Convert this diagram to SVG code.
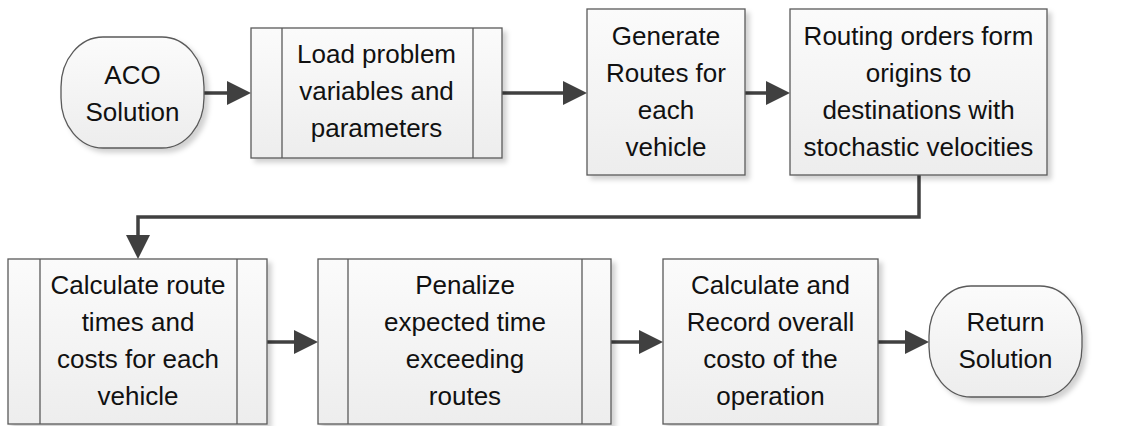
<svg xmlns="http://www.w3.org/2000/svg" width="1123" height="426" viewBox="0 0 1123 426">
<defs>
<linearGradient id="fillg" x1="0" y1="0" x2="0" y2="1">
<stop offset="0" stop-color="#fbfbfb"/>
<stop offset="1" stop-color="#ededed"/>
</linearGradient>
<filter id="sh" x="-10%" y="-10%" width="125%" height="125%">
<feDropShadow dx="4" dy="4" stdDeviation="2.5" flood-color="#000" flood-opacity="0.18"/>
</filter>
<marker id="ah" viewBox="0 0 24 24" refX="14" refY="12" markerWidth="24" markerHeight="24" markerUnits="userSpaceOnUse" orient="auto">
<path d="M0,0 L24,12 L0,24 Z" fill="#404040"/>
</marker>
</defs>
<style>
.shape{fill:url(#fillg);stroke:#5a5a5a;stroke-width:1.3;filter:url(#sh)}
.inner{stroke:#5a5a5a;stroke-width:1.3;fill:none}
.lbl{font-family:"Liberation Sans",Arial,sans-serif;font-size:26px;fill:#111;text-anchor:middle}
.conn{fill:none;stroke:#404040;stroke-width:3.5;marker-end:url(#ah)}
</style>
<rect width="1123" height="426" fill="#ffffff"/>

<g id="connectors">
<path class="conn" d="M204,93 H241"/>
<path class="conn" d="M502,93 H577"/>
<path class="conn" d="M745,93 H780"/>
<path class="conn" d="M919,175 V217 H138 V249"/>
<path class="conn" d="M267,342 H308"/>
<path class="conn" d="M611,342 H653"/>
<path class="conn" d="M878,342 H919"/>
</g>

<g id="aco">
<rect class="shape" x="61" y="37" width="143" height="111" rx="42" ry="50"/>
<text class="lbl" x="132.5" y="84">ACO</text>
<text class="lbl" x="132.5" y="121">Solution</text>
</g>

<g id="load">
<rect class="shape" x="251" y="28" width="251" height="130"/>
<line class="inner" x1="282" y1="28" x2="282" y2="158"/>
<line class="inner" x1="473" y1="28" x2="473" y2="158"/>
<text class="lbl" x="376.5" y="63">Load problem</text>
<text class="lbl" x="376.5" y="100">variables and</text>
<text class="lbl" x="376.5" y="137">parameters</text>
</g>

<g id="generate">
<rect class="shape" x="587" y="9" width="158" height="166"/>
<text class="lbl" x="666" y="45">Generate</text>
<text class="lbl" x="666" y="82">Routes for</text>
<text class="lbl" x="666" y="119">each</text>
<text class="lbl" x="666" y="156">vehicle</text>
</g>

<g id="routing">
<rect class="shape" x="790" y="9" width="257" height="166"/>
<text class="lbl" x="918.5" y="45">Routing orders form</text>
<text class="lbl" x="918.5" y="82">origins to</text>
<text class="lbl" x="918.5" y="119">destinations with</text>
<text class="lbl" x="918.5" y="156">stochastic velocities</text>
</g>

<g id="calculate">
<rect class="shape" x="8" y="259" width="259" height="165"/>
<line class="inner" x1="40" y1="259" x2="40" y2="424"/>
<line class="inner" x1="237" y1="259" x2="237" y2="424"/>
<text class="lbl" x="138" y="294">Calculate route</text>
<text class="lbl" x="138" y="331">times and</text>
<text class="lbl" x="138" y="368">costs for each</text>
<text class="lbl" x="138" y="405">vehicle</text>
</g>

<g id="penalize">
<rect class="shape" x="318" y="259" width="293" height="165"/>
<line class="inner" x1="348" y1="259" x2="348" y2="424"/>
<line class="inner" x1="582" y1="259" x2="582" y2="424"/>
<text class="lbl" x="465" y="294">Penalize</text>
<text class="lbl" x="465" y="331">expected time</text>
<text class="lbl" x="465" y="368">exceeding</text>
<text class="lbl" x="465" y="405">routes</text>
</g>

<g id="record">
<rect class="shape" x="663" y="259" width="215" height="165"/>
<text class="lbl" x="770.5" y="294">Calculate and</text>
<text class="lbl" x="770.5" y="331">Record overall</text>
<text class="lbl" x="770.5" y="368">costo of the</text>
<text class="lbl" x="770.5" y="405">operation</text>
</g>

<g id="return">
<rect class="shape" x="929" y="286" width="153" height="111" rx="42" ry="50"/>
<text class="lbl" x="1005.5" y="331">Return</text>
<text class="lbl" x="1005.5" y="368">Solution</text>
</g>
</svg>
